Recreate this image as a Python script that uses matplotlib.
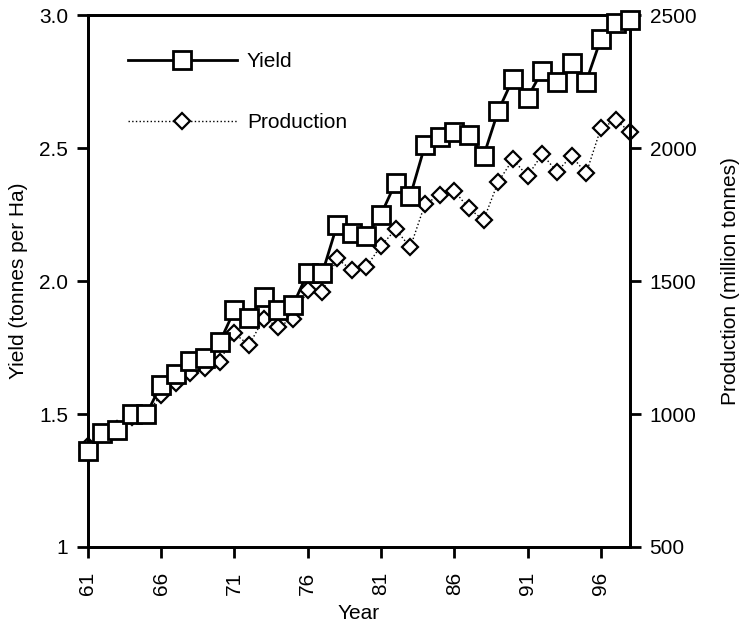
import numpy as np
import matplotlib.pyplot as plt

plt.rcParams['font.family'] = ['Liberation Sans', 'DejaVu Sans']

years = np.arange(61, 99)
yield_t = [1.36, 1.43, 1.44, 1.50, 1.50, 1.61, 1.65, 1.70, 1.71, 1.77,
           1.89, 1.86, 1.94, 1.89, 1.91, 2.03, 2.03, 2.21, 2.18, 2.17,
           2.25, 2.37, 2.32, 2.51, 2.54, 2.56, 2.55, 2.47, 2.64, 2.76,
           2.69, 2.79, 2.75, 2.82, 2.75, 2.91, 2.97, 2.98]
production = [880, 925, 945, 990, 1000, 1071, 1115, 1153, 1172, 1197,
               1303, 1259, 1359, 1328, 1359, 1466, 1460, 1585, 1541, 1554,
               1632, 1694, 1627, 1789, 1823, 1839, 1773, 1729, 1873, 1957,
               1895, 1977, 1911, 1970, 1905, 2074, 2105, 2061]

fig = plt.figure(figsize=(7.44, 6.28), dpi=100)
ax = fig.add_axes([0.118, 0.129, 0.729, 0.847])
ax2 = ax.twinx()

ax2.plot(years, production, color='black', linestyle=':', linewidth=1,
         marker='D', markersize=8, markerfacecolor='white',
         markeredgecolor='black', markeredgewidth=1.6, label='Production',
         clip_on=False)
ax.plot(years, yield_t, color='black', linestyle='-', linewidth=2,
        marker='s', markersize=13, markerfacecolor='white',
        markeredgecolor='black', markeredgewidth=2, label='Yield', zorder=3,
        clip_on=False)
ax.set_zorder(ax2.get_zorder() + 1)
ax.patch.set_visible(False)

ax.set_xlim(61, 98)
ax.set_ylim(1, 3)
ax2.set_ylim(500, 2500)
ax.set_xticks([61, 66, 71, 76, 81, 86, 91, 96])
ax.set_xticklabels(['61', '66', '71', '76', '81', '86', '91', '96'], rotation=90)
ax.set_yticks([1, 1.5, 2.0, 2.5, 3.0])
ax.set_yticklabels(['1', '1.5', '2.0', '2.5', '3.0'])
ax2.set_yticks([500, 1000, 1500, 2000, 2500])

for a in (ax, ax2):
    a.tick_params(direction='out', length=8, width=2, labelsize=15, pad=6)
    for s in a.spines.values():
        s.set_linewidth(2)
ax.tick_params(axis='x', pad=10)

ax.set_xlabel('Year', fontsize=15, labelpad=6)
ax.set_ylabel('Yield (tonnes per Ha)', fontsize=15, labelpad=8)
ax2.set_ylabel('Production (million tonnes)', fontsize=15, labelpad=18)

h1, l1 = ax.get_legend_handles_labels()
h2, l2 = ax2.get_legend_handles_labels()
ax.legend(h1 + h2, l1 + l2, loc='upper left', bbox_to_anchor=(0.04, 0.965),
          frameon=False, handlelength=5.2, fontsize=15, labelspacing=2.0,
          handletextpad=0.5)

fig.savefig('out.png', dpi=100)
